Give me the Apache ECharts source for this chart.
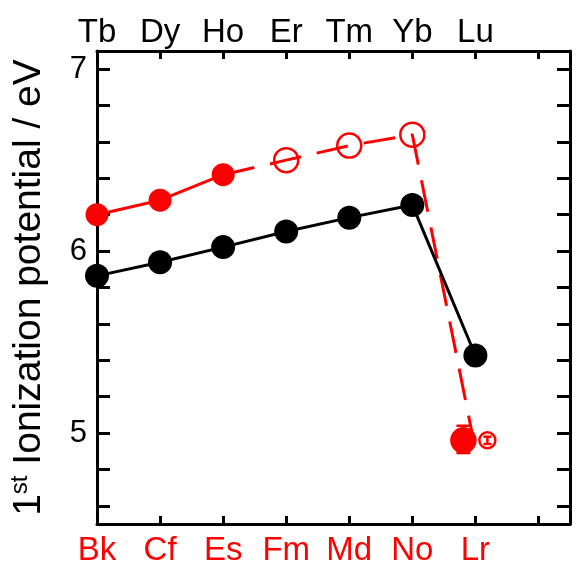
<!DOCTYPE html>
<html>
<head>
<meta charset="utf-8">
<script src="https://cdn.jsdelivr.net/npm/echarts@6/dist/echarts.min.js"></script>
<style>
  html, body { margin: 0; padding: 0; background: #fff; }
  #chart { width: 580px; height: 580px; }
</style>
</head>
<body>
<div id="chart"></div>
<script>
  // element names on the two category-like axes
  const topLabels = ['Tb', 'Dy', 'Ho', 'Er', 'Tm', 'Yb', 'Lu'];
  const bottomLabels = ['Bk', 'Cf', 'Es', 'Fm', 'Md', 'No', 'Lr'];

  // lanthanides (black)
  const lanthanideIP = [5.864, 5.939, 6.022, 6.108, 6.184, 6.254, 5.426];

  // actinides (red): measured Bk..Es, open Fm..No
  const actMeasuredX = [0, 1, 2];
  const actMeasuredIP = [6.20, 6.28, 6.42];
  const actOpenX = [3, 4, 5];
  const actOpenIP = [6.50, 6.58, 6.64];
  // end of dashed trend line towards Lr
  const dashEndX = 5.97;
  const dashEndIP = 4.96;

  // Lr: experiment (filled) and theory (open)
  const lrX = [5.81, 6.19];
  const lrIP = [4.96, 4.96];
  const lrLow = [4.89, 4.94];
  const lrHigh = [5.04, 4.98];

  const RED = '#f00';
  const FONT = 'Liberation Sans, Arial, sans-serif';

  let chart = echarts.init(document.getElementById('chart'));

  const lanthanideData = lanthanideIP.map((v, i) => [i, v]);
  const measuredData = actMeasuredX.map((x, i) => [x, actMeasuredIP[i]]);
  const openData = actOpenX.map((x, i) => [x, actOpenIP[i]]);
  const dashedData = [measuredData[measuredData.length - 1]].concat(openData, [[dashEndX, dashEndIP]]);
  const errData = lrX.map((x, i) => [x, lrLow[i], lrHigh[i]]);

  function isInt(v) { return Math.abs(v - Math.round(v)) < 1e-6; }

  const frameLine = { show: true, onZero: false, lineStyle: { color: '#000', width: 3 } };

  const xBase = {
    type: 'value', min: 0, max: 7.5, interval: 1,
    axisLine: frameLine,
    splitLine: { show: false },
    axisTick: { show: true, inside: true, length: 8, lineStyle: { color: '#000', width: 3 } }
  };
  const yBase = {
    type: 'value', min: 4.5, max: 7.1, splitNumber: 13,
    axisLine: frameLine,
    splitLine: { show: false },
    axisTick: { show: true, inside: true, length: 13, lineStyle: { color: '#000', width: 3 } }
  };

  let option = {
    animation: false,
    backgroundColor: '#fff',
    grid: { left: 93, right: 10, top: 51, bottom: 56 },
    xAxis: [
      Object.assign({}, xBase, {
        position: 'bottom',
        axisLabel: {
          color: RED, fontSize: 33, fontFamily: FONT, margin: 10,
          formatter: v => (isInt(v) && bottomLabels[Math.round(v)]) || ''
        }
      }),
      Object.assign({}, xBase, {
        position: 'top',
        axisLabel: {
          color: '#000', fontSize: 33, fontFamily: FONT, margin: 2,
          formatter: v => (isInt(v) && topLabels[Math.round(v)]) || ''
        }
      })
    ],
    yAxis: [
      Object.assign({}, yBase, {
        position: 'left',
        axisLabel: {
          color: '#000', fontSize: 31, fontFamily: FONT, margin: 10,
          formatter: v => isInt(v) ? String(Math.round(v)) : ''
        },
        name: '{n|1}{sup|st}{n| Ionization potential / eV}',
        nameLocation: 'middle',
        nameRotate: 90,
        nameGap: 47,
        nameTextStyle: {
          color: '#000', fontFamily: FONT,
          rich: {
            n: { fontSize: 39, fontFamily: FONT, color: '#000', lineHeight: 42 },
            sup: { fontSize: 24, fontFamily: FONT, color: '#000', verticalAlign: 'top', lineHeight: 42, padding: [0, 0, 13, 0] }
          }
        }
      }),
      Object.assign({}, yBase, {
        position: 'right',
        axisLabel: { show: false }
      })
    ],
    series: [
      {
        name: 'actinide trend',
        type: 'line',
        data: dashedData,
        symbol: 'none',
        lineStyle: { color: RED, width: 3, type: [32, 16] },
        z: 2
      },
      {
        name: 'actinide measured',
        type: 'line',
        data: measuredData,
        symbol: 'circle',
        symbolSize: 23,
        itemStyle: { color: RED, opacity: 1 },
        lineStyle: { color: RED, width: 3 },
        z: 3
      },
      {
        name: 'actinide open',
        type: 'scatter',
        data: openData,
        symbol: 'circle',
        symbolSize: 24,
        itemStyle: { color: 'rgba(0,0,0,0)', borderColor: RED, borderWidth: 2.5, opacity: 1 },
        z: 3
      },
      {
        name: 'lanthanide',
        type: 'line',
        data: lanthanideData,
        symbol: 'circle',
        symbolSize: 24,
        itemStyle: { color: '#000', opacity: 1 },
        lineStyle: { color: '#000', width: 3 },
        z: 4
      },
      {
        name: 'Lr',
        type: 'scatter',
        data: lrX.map((x, i) => [x, lrIP[i]]),
        symbol: 'circle',
        symbolSize: (val, p) => p.dataIndex === 0 ? 24 : 16,
        itemStyle: {
          color: p => p.dataIndex === 0 ? RED : 'rgba(0,0,0,0)',
          borderColor: RED,
          borderWidth: 2.5,
          opacity: 1
        },
        z: 5
      },
      {
        name: 'Lr error',
        type: 'custom',
        data: errData,
        z: 6,
        renderItem: function (params, api) {
          const x = api.value(0);
          const lo = api.coord([x, api.value(1)]);
          const hi = api.coord([x, api.value(2)]);
          const cap = params.dataIndex === 0 ? 7 : 4;
          const st = { stroke: RED, lineWidth: 2.5 };
          return {
            type: 'group',
            children: [
              { type: 'line', shape: { x1: lo[0], y1: lo[1], x2: hi[0], y2: hi[1] }, style: st },
              { type: 'line', shape: { x1: lo[0] - cap, y1: lo[1], x2: lo[0] + cap, y2: lo[1] }, style: st },
              { type: 'line', shape: { x1: hi[0] - cap, y1: hi[1], x2: hi[0] + cap, y2: hi[1] }, style: st }
            ]
          };
        }
      }
    ]
  };

  chart.setOption(option);
</script>
</body>
</html>
